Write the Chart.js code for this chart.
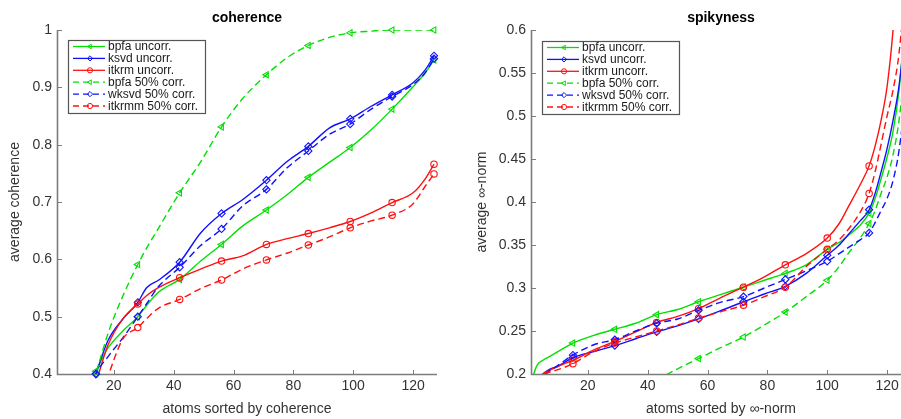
<!DOCTYPE html>
<html lang="en">
<head>
<meta charset="UTF-8">
<title>coherence / spikyness</title>
<script src="https://cdn.jsdelivr.net/npm/chart.js@4.4.1/dist/chart.umd.min.js"></script>
<style>
    html, body { margin: 0; padding: 0; background: #fff; overflow: hidden; }
    #wrap { position: relative; width: 901px; height: 419px; overflow: hidden; }
    canvas { position: absolute; top: 0; }
    #coh { left: 0; }
    #spk { left: 450px; }
</style>
</head>
<body>
<div id="wrap">
    <canvas id="coh" width="450" height="419"></canvas>
    <canvas id="spk" width="474" height="419"></canvas>
</div>
<script>
    const seriesNames = ['bpfa uncorr.', 'ksvd uncorr.', 'itkrm uncorr.', 'bpfa 50% corr.', 'wksvd 50% corr.', 'itkrmm 50% corr.'];

    // left panel: average coherence over atoms sorted by coherence
    const cohAtoms   = [10, 14, 18, 23, 28, 31, 35, 42, 49, 56, 63, 71, 78, 85, 92, 99, 106, 113, 120, 124, 127];
    const cohMarkers = [14, 28, 42, 56, 71, 85, 99, 113, 127];
    const cohBpfa    = [0.36, 0.405, 0.445, 0.475, 0.50, 0.52, 0.543, 0.565, 0.597, 0.626, 0.658, 0.686, 0.713, 0.743, 0.769, 0.795, 0.826, 0.862, 0.901, 0.925, 0.948];
    const cohKsvd    = [0.34, 0.40, 0.458, 0.496, 0.525, 0.551, 0.564, 0.595, 0.646, 0.68, 0.704, 0.738, 0.771, 0.797, 0.829, 0.845, 0.867, 0.887, 0.908, 0.93, 0.955];
    const cohItkrm   = [0.33, 0.385, 0.45, 0.496, 0.522, 0.537, 0.551, 0.568, 0.583, 0.597, 0.606, 0.626, 0.636, 0.645, 0.655, 0.666, 0.681, 0.699, 0.716, 0.74, 0.766];
    const cohBpfaC   = [0.33, 0.40, 0.47, 0.536, 0.591, 0.62, 0.655, 0.716, 0.77, 0.831, 0.88, 0.922, 0.952, 0.973, 0.987, 0.995, 0.998, 1, 1, 1, 1];
    const cohWksvdC  = [0.34, 0.40, 0.43, 0.463, 0.50, 0.523, 0.553, 0.586, 0.624, 0.653, 0.693, 0.722, 0.76, 0.789, 0.818, 0.836, 0.862, 0.884, 0.905, 0.925, 0.95];
    const cohItkrmmC = [0.28, 0.33, 0.395, 0.461, 0.481, 0.497, 0.515, 0.530, 0.549, 0.564, 0.583, 0.599, 0.611, 0.625, 0.639, 0.655, 0.667, 0.677, 0.697, 0.727, 0.749];
    const cohYTicks  = [0.4, 0.5, 0.6, 0.7, 0.8, 0.9, 1];

    // right panel: average inf-norm over atoms sorted by inf-norm
    const spkAtoms   = [1, 3, 5, 7, 10, 15, 22, 29, 36, 43, 50, 57, 64, 72, 79, 86, 93, 100, 104, 107, 111, 114, 116, 118, 120, 122, 124, 126, 128];
    const spkMarkers = [15, 29, 43, 57, 72, 86, 100, 114, 128];
    const spkBpfa    = [0.19, 0.21, 0.216, 0.220, 0.226, 0.236, 0.245, 0.252, 0.259, 0.269, 0.275, 0.284, 0.292, 0.301, 0.309, 0.317, 0.327, 0.345, 0.353, 0.361, 0.373, 0.387, 0.404, 0.427, 0.452, 0.482, 0.53, 0.61, 0.7];
    const spkKsvd    = [null, 0.19, 0.2, 0.205, 0.209, 0.219, 0.226, 0.233, 0.241, 0.249, 0.256, 0.264, 0.273, 0.284, 0.293, 0.302, 0.317, 0.338, 0.350, 0.362, 0.378, 0.391, 0.41, 0.435, 0.462, 0.495, 0.535, 0.6, 0.68];
    const spkItkrm   = [null, 0.19, 0.2, 0.204, 0.209, 0.216, 0.228, 0.238, 0.249, 0.260, 0.267, 0.276, 0.288, 0.301, 0.313, 0.327, 0.34, 0.358, 0.375, 0.394, 0.42, 0.442, 0.465, 0.495, 0.534, 0.6, 0.7, 0.8, 0.9];
    const spkBpfaC   = [null, null, null, null, null, null, null, null, null, 0.193, 0.206, 0.218, 0.23, 0.243, 0.257, 0.272, 0.29, 0.309, 0.325, 0.34, 0.358, 0.375, 0.39, 0.41, 0.429, 0.455, 0.495, 0.56, 0.65];
    const spkWksvdC  = [null, 0.19, 0.197, 0.203, 0.21, 0.222, 0.234, 0.240, 0.25, 0.259, 0.264, 0.274, 0.283, 0.290, 0.30, 0.310, 0.32, 0.331, 0.34, 0.347, 0.356, 0.364, 0.376, 0.39, 0.404, 0.425, 0.46, 0.52, 0.6];
    const spkItkrmmC = [null, 0.19, 0.199, 0.202, 0.205, 0.212, 0.226, 0.236, 0.243, 0.250, 0.257, 0.265, 0.272, 0.280, 0.29, 0.301, 0.325, 0.345, 0.356, 0.368, 0.388, 0.41, 0.435, 0.467, 0.50, 0.53, 0.573, 0.65, 0.75];
    const spkYTicks  = [0.2, 0.25, 0.3, 0.35, 0.4, 0.45, 0.5, 0.55, 0.6];

    const xTicks = [20, 40, 60, 80, 100, 120];

    const FONT = '"Liberation Sans", Arial, Helvetica, sans-serif';
    const AXIS_COLOR = '#7d7d7d';
    const TEXT_COLOR = '#333';

    const seriesStyle = [
        { color: '#00e000', dash: [], shape: 'triangle' },
        { color: '#1010ff', dash: [], shape: 'rectRot' },
        { color: '#ff1010', dash: [], shape: 'circle' },
        { color: '#00e000', dash: [7, 4], shape: 'triangle' },
        { color: '#1010ff', dash: [7, 4], shape: 'rectRot' },
        { color: '#ff1010', dash: [7, 4], shape: 'circle' }
    ];

    function fmt(v) {
        return String(Math.round(v * 100) / 100);
    }

    // one clipped line dataset plus one unclipped marker dataset per series
    function buildDatasets(atoms, markerAtoms, values, yMin, yMax) {
        const sets = [];
        values.forEach((ys, i) => {
            const st = seriesStyle[i];
            const pts = atoms.map((x, k) => ({ x: x, y: ys[k] }));
            sets.push({
                label: seriesNames[i],
                data: pts,
                borderColor: st.color,
                borderWidth: 1.4,
                borderDash: st.dash,
                pointRadius: 0,
                cubicInterpolationMode: 'monotone',
                fill: false,
                clip: 0,
                order: 20 - 2 * i
            });
            sets.push({
                label: seriesNames[i] + ' markers',
                data: pts.filter(p => markerAtoms.includes(p.x) && p.y !== null && p.y >= yMin && p.y <= yMax),
                showLine: false,
                pointStyle: st.shape,
                pointRotation: st.shape === 'triangle' ? -90 : 0,
                pointRadius: st.shape === 'circle' ? 3.2 : 3.6,
                pointBorderColor: st.color,
                pointBackgroundColor: 'rgba(0,0,0,0)',
                pointBorderWidth: 1.1,
                clip: false,
                order: 19 - 2 * i
            });
        });
        return sets;
    }

    function drawMarker(ctx, shape, x, y, r, color) {
        ctx.strokeStyle = color;
        ctx.lineWidth = 1;
        ctx.beginPath();
        if (shape === 'circle') {
            ctx.arc(x, y, r, 0, Math.PI * 2);
        } else if (shape === 'rectRot') {
            ctx.moveTo(x, y - r);
            ctx.lineTo(x + r, y);
            ctx.lineTo(x, y + r);
            ctx.lineTo(x - r, y);
            ctx.closePath();
        } else {
            ctx.moveTo(x - r, y);
            ctx.lineTo(x + r * 0.5, y - r * 0.87);
            ctx.lineTo(x + r * 0.5, y + r * 0.87);
            ctx.closePath();
        }
        ctx.stroke();
    }

    // MATLAB style axes: box off, inward ticks, titles and a framed legend
    const matlabAxes = {
        id: 'matlabAxes',
        beforeDatasetsDraw(chart) {
            const { ctx, chartArea: a, scales: { x, y } } = chart;
            ctx.save();
            ctx.strokeStyle = AXIS_COLOR;
            ctx.lineWidth = 1.6;
            ctx.beginPath();
            ctx.moveTo(a.left + 0.5, a.top);
            ctx.lineTo(a.left + 0.5, a.bottom + 0.5);
            ctx.lineTo(a.right, a.bottom + 0.5);
            ctx.stroke();
            ctx.lineWidth = 1;
            ctx.beginPath();
            x.ticks.forEach(t => {
                const px = Math.round(x.getPixelForValue(t.value)) + 0.5;
                ctx.moveTo(px, a.bottom);
                ctx.lineTo(px, a.bottom - 4);
            });
            y.ticks.forEach(t => {
                const py = Math.round(y.getPixelForValue(t.value)) + 0.5;
                ctx.moveTo(a.left, py);
                ctx.lineTo(a.left + 5, py);
            });
            ctx.stroke();
            ctx.restore();
        },
        afterDatasetsDraw(chart, args, o) {
            const { ctx, chartArea: a } = chart;
            const cx = (a.left + a.right) / 2;
            ctx.save();
            ctx.textAlign = 'center';
            ctx.textBaseline = 'middle';

            ctx.fillStyle = '#000';
            ctx.font = 'bold 14px ' + FONT;
            ctx.fillText(o.title, cx, 18);

            ctx.fillStyle = TEXT_COLOR;
            ctx.font = '14px ' + FONT;
            ctx.fillText(o.xLabel, cx, 409);

            ctx.save();
            ctx.translate(o.yLabelX, (a.top + a.bottom) / 2);
            ctx.rotate(-Math.PI / 2);
            ctx.fillText(o.yLabel, 0, 0);
            ctx.restore();

            // legend
            const bx = o.legendX, by = o.legendY, w = 137, h = 73;
            ctx.fillStyle = '#fff';
            ctx.fillRect(bx, by, w, h);
            ctx.strokeStyle = '#555';
            ctx.lineWidth = 1.2;
            ctx.strokeRect(bx + 0.5, by + 0.5, w, h);
            ctx.font = '12px ' + FONT;
            ctx.textAlign = 'left';
            seriesNames.forEach((name, i) => {
                const st = seriesStyle[i];
                const cy = by + 6.5 + i * 11.9;
                ctx.strokeStyle = st.color;
                ctx.lineWidth = 1.3;
                ctx.setLineDash(st.dash.length ? [6, 4] : []);
                ctx.beginPath();
                ctx.moveTo(bx + 5, cy);
                ctx.lineTo(bx + 37, cy);
                ctx.stroke();
                ctx.setLineDash([]);
                drawMarker(ctx, st.shape, bx + 22, cy, 2.6, st.color);
                ctx.fillStyle = '#1a1a1a';
                ctx.fillText(name, bx + 40, cy + 0.5);
            });
            ctx.restore();
        }
    };

    function makeChart(id, cfg) {
        const tickFont = { family: FONT, size: 14 };
        return new Chart(document.getElementById(id), {
            type: 'line',
            data: { datasets: cfg.datasets },
            options: {
                responsive: false,
                animation: false,
                devicePixelRatio: 1,
                events: [],
                layout: { padding: { left: 0, top: 30, right: 13, bottom: 0 } },
                plugins: {
                    legend: { display: false },
                    tooltip: { enabled: false },
                    matlabAxes: cfg.axes
                },
                scales: {
                    x: {
                        type: 'linear',
                        min: 1,
                        max: 128,
                        afterBuildTicks: s => { s.ticks = xTicks.map(v => ({ value: v })); },
                        afterFit: s => { s.height = 45; },
                        grid: { display: false, drawTicks: false },
                        border: { display: false },
                        ticks: { font: tickFont, color: TEXT_COLOR, padding: 4, maxRotation: 0, autoSkip: false, callback: v => fmt(v) }
                    },
                    y: {
                        type: 'linear',
                        min: cfg.yTicks[0],
                        max: cfg.yTicks[cfg.yTicks.length - 1],
                        afterBuildTicks: s => { s.ticks = cfg.yTicks.map(v => ({ value: v })); },
                        afterFit: s => { s.width = cfg.yAxisWidth; },
                        grid: { display: false, drawTicks: false },
                        border: { display: false },
                        ticks: { font: tickFont, color: TEXT_COLOR, padding: 5, autoSkip: false, callback: v => fmt(v) }
                    }
                }
            },
            plugins: [matlabAxes]
        });
    }

    makeChart('coh', {
        datasets: buildDatasets(cohAtoms, cohMarkers,
            [cohBpfa, cohKsvd, cohItkrm, cohBpfaC, cohWksvdC, cohItkrmmC], 0.4, 1),
        yTicks: cohYTicks,
        yAxisWidth: 57,
        axes: { title: 'coherence', xLabel: 'atoms sorted by coherence', yLabel: 'average coherence', yLabelX: 15, legendX: 68, legendY: 40 }
    });

    makeChart('spk', {
        datasets: buildDatasets(spkAtoms, spkMarkers,
            [spkBpfa, spkKsvd, spkItkrm, spkBpfaC, spkWksvdC, spkItkrmmC], 0.2, 0.6),
        yTicks: spkYTicks,
        yAxisWidth: 81,
        axes: { title: 'spikyness', xLabel: 'atoms sorted by \u221e-norm', yLabel: 'average \u221e-norm', yLabelX: 32, legendX: 92, legendY: 41 }
    });
</script>
</body>
</html>
